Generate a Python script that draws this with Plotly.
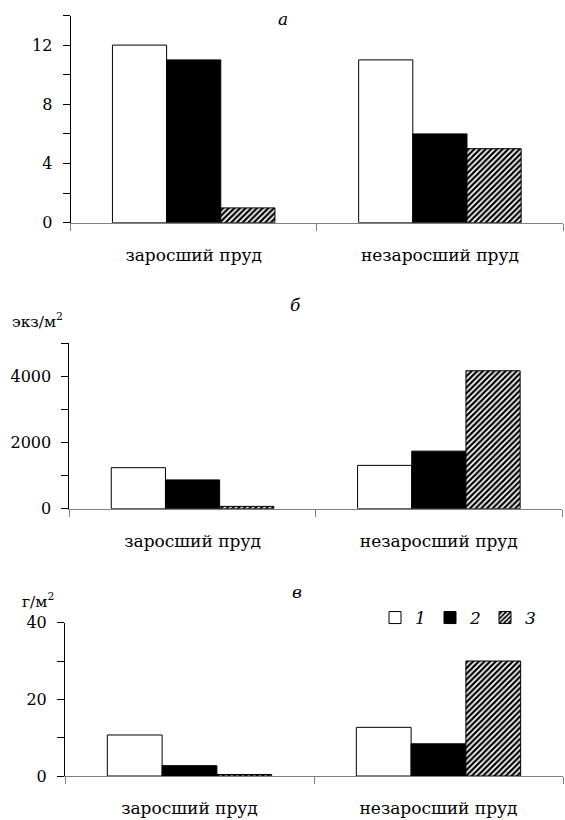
import plotly.graph_objects as go

# ---- data ----
categories = ["заросший пруд", "незаросший пруд"]
series_names = ["1", "2", "3"]

# panel а (count)
a_s1 = [12, 11]
a_s2 = [11, 6]
a_s3 = [1, 5]
# panel б (экз/м2)
b_s1 = [1240, 1310]
b_s2 = [870, 1740]
b_s3 = [70, 4170]
# panel в (г/м2)
c_s1 = [10.7, 12.7]
c_s2 = [2.7, 8.4]
c_s3 = [0.4, 30]

panel_titles = ["а", "б", "в"]
y_units = ["", "экз/м<sup>2</sup>", "г/м<sup>2</sup>"]

FONT = "DejaVu Serif"
W, H = 565, 820
x_idx = list(range(len(categories)))

def marker(i):
    if i == 0:
        return dict(color="white", line=dict(color="black", width=1))
    if i == 1:
        return dict(color="black", line=dict(color="black", width=1))
    return dict(color="white", line=dict(color="black", width=1),
                pattern=dict(shape="/", fgcolor="black", bgcolor="white",
                             size=4, solidity=0.55))

fig = go.Figure()
panels = [
    ([a_s1, a_s2, a_s3], "x", "y"),
    ([b_s1, b_s2, b_s3], "x2", "y2"),
    ([c_s1, c_s2, c_s3], "x3", "y3"),
]
for p, (series, xa, ya) in enumerate(panels):
    for i, vals in enumerate(series):
        fig.add_trace(go.Bar(
            x=x_idx, y=vals, name=series_names[i], marker=marker(i),
            xaxis=xa, yaxis=ya, showlegend=(p == 2), hoverinfo="skip",
        ))

def px_x(v):
    return v / W

def px_y(v):
    return 1 - v / H

x_domains = [(70.6, 563), (69.4, 562), (65, 563)]
y_domains = [(222.7, 15.5), (508.7, 343.3), (776, 622.7)]
y_ranges = [(0, 14), (0, 5000), (0, 40)]
y_major = [4, 2000, 20]
y_minor = [2, 1000, 10]

layout = dict(
    template="none",
    width=W, height=H, margin=dict(l=0, r=0, t=0, b=0, autoexpand=False),
    paper_bgcolor="white", plot_bgcolor="white",
    barmode="group", bargap=0.34, bargroupgap=0,
    font=dict(family=FONT, size=16, color="black"),
    legend=dict(orientation="h", x=px_x(375), y=px_y(618), xanchor="left",
                yanchor="middle",
                font=dict(family=FONT, size=17, style="italic", color="black"),
                bgcolor="rgba(0,0,0,0)", traceorder="normal",
                entrywidth=10, entrywidthmode="pixels", itemwidth=30),
)
for p in range(3):
    sx = "" if p == 0 else str(p + 1)
    layout["xaxis" + sx] = dict(
        domain=[px_x(x_domains[p][0]), px_x(x_domains[p][1])],
        anchor="y" + sx, range=[-0.5, 1.5], automargin=False,
        tickmode="array", tickvals=x_idx, ticktext=categories,
        ticks="", showgrid=False, zeroline=False,
        showline=True, linecolor="#808080", linewidth=1,
        tickfont=dict(family=FONT, size=17, color="black"),
        ticklabelstandoff=17,
        minor=dict(tickmode="array", tickvals=[-0.5, 0.5, 1.5], ticks="outside",
                   ticklen=7, tickcolor="#808080", tickwidth=1, showgrid=False),
        fixedrange=True,
    )
    layout["yaxis" + sx] = dict(
        domain=[px_y(y_domains[p][0]), px_y(y_domains[p][1])],
        anchor="x" + sx, range=list(y_ranges[p]), automargin=False,
        tickmode="linear", tick0=0, dtick=y_major[p],
        ticks="outside", ticklen=7, tickcolor="black", tickwidth=1,
        showgrid=False, zeroline=False,
        showline=True, linecolor="black", linewidth=1,
        tickfont=dict(family=FONT, size=16, color="black"),
        ticklabelstandoff=7,
        minor=dict(tick0=0, dtick=y_minor[p], ticks="outside", ticklen=7,
                   tickcolor="black", tickwidth=1, showgrid=False),
        fixedrange=True,
    )
fig.update_layout(**layout)

title_pos = [(282.5, 18.5), (295, 305), (297, 592)]
for p in range(3):
    fig.add_annotation(
        text=panel_titles[p], xref="paper", yref="paper",
        x=px_x(title_pos[p][0]), y=px_y(title_pos[p][1]),
        xanchor="center", yanchor="middle", showarrow=False,
        font=dict(family=FONT, size=17, style="italic", color="black"),
    )

unit_pos = [None, (10, 320), (20, 600)]
for p in (1, 2):
    fig.add_annotation(
        text=y_units[p], xref="paper", yref="paper",
        x=px_x(unit_pos[p][0]), y=px_y(unit_pos[p][1]),
        xanchor="left", yanchor="middle", showarrow=False,
        font=dict(family=FONT, size=15.5, color="black"),
    )

fig.write_html("out.html")
